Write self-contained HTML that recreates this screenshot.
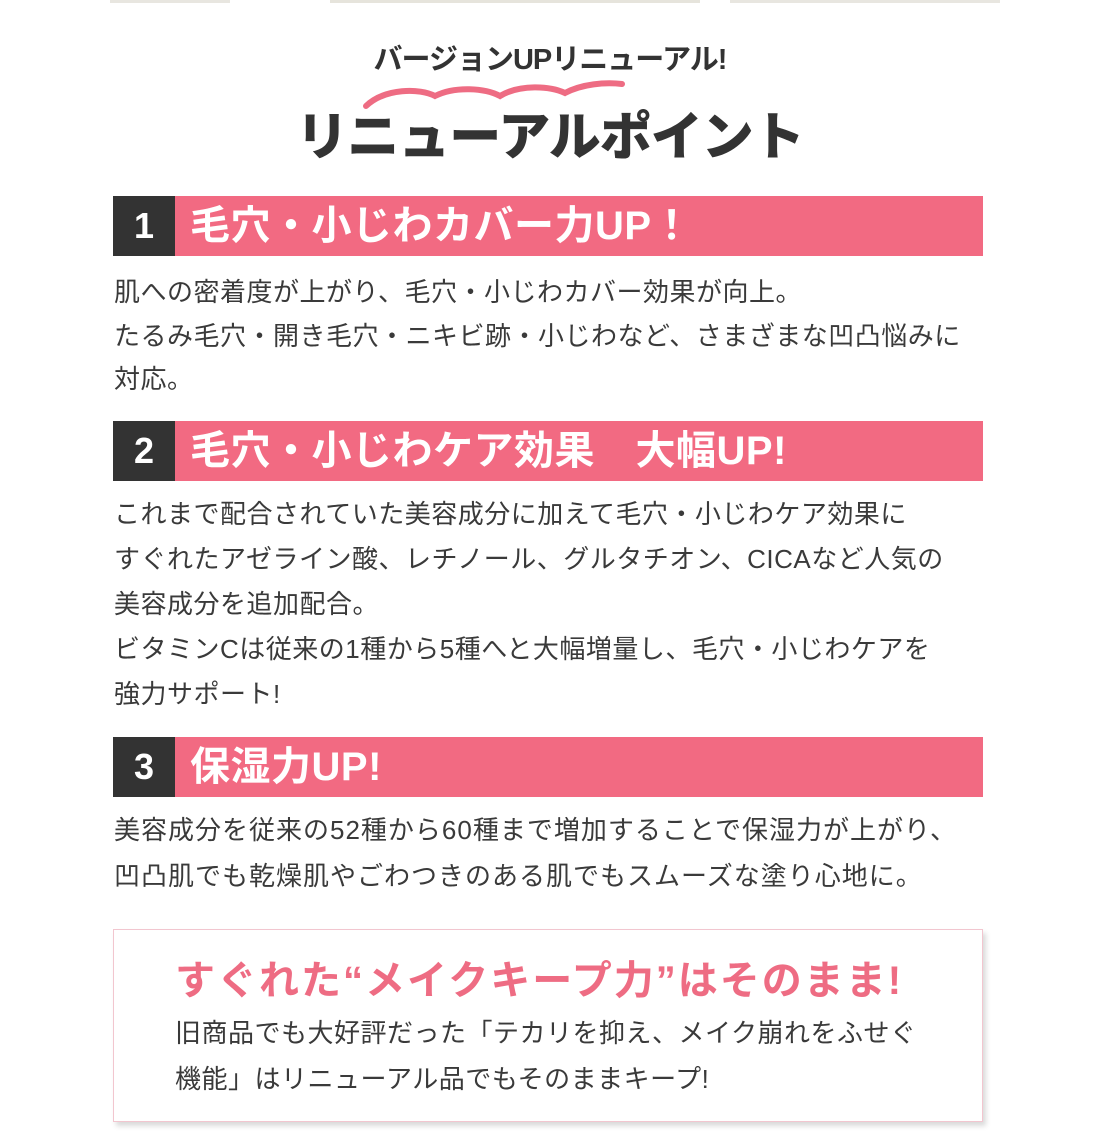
<!DOCTYPE html>
<html><head><meta charset="utf-8"><style>
*{margin:0;padding:0;box-sizing:border-box}
body{width:1100px;height:1144px;background:#fff;position:relative;overflow:hidden;font-family:"Liberation Sans","Noto Sans CJK JP",sans-serif;color:#3a3a3a}
.a{position:absolute;white-space:nowrap}
.t{font-size:26px;line-height:30px;letter-spacing:0.5px;color:#3a3a3a}
.bar{position:absolute;left:113px;width:870px;height:60px;background:#f26a82}
.num{position:absolute;left:0;top:0;width:62px;height:60px;background:#333;color:#fff;font-size:36px;font-weight:bold;text-align:center;line-height:60px}
.bt{position:absolute;left:77px;top:0;line-height:60px;color:#fff;font-size:40px;font-weight:bold;letter-spacing:0.5px;white-space:nowrap}
</style></head><body>
<div class="a" style="left:0;top:0;width:1100px;height:3px;background:linear-gradient(90deg,#fff 0,#fff 110px,#e8e6e0 110px,#e8e6e0 230px,#fff 230px,#fff 330px,#e6e4dc 330px,#e6e4dc 700px,#fff 700px,#fff 730px,#e8e6e0 730px,#e8e6e0 1000px,#fff 1000px)"></div>
<div class="a" style="left:0;width:1100px;text-align:center;top:36px;font-size:29px;font-weight:bold;color:#333;letter-spacing:-1px">バージョンUPリニューアル!</div>
<svg class="a" style="left:360px;top:76px" width="280" height="36" viewBox="0 0 280 36"><path d="M6 30 C25 12,60 12,75 20 C95 10,125 12,140 20 C160 8,190 10,205 17 C222 8,245 6,262 8" stroke="#ee6c83" stroke-width="6" fill="none" stroke-linecap="round"/></svg>
<div class="a" style="left:0;width:1100px;text-align:center;top:108px;font-size:52px;font-weight:900;color:#333;letter-spacing:-1px;line-height:60px">リニューアルポイント</div>

<div class="bar" style="top:196px"><div class="num">1</div><div class="bt">毛穴・小じわカバー力UP！</div></div>
<div class="a t" style="left:114px;top:277px">肌への密着度が上がり、毛穴・小じわカバー効果が向上。</div>
<div class="a t" style="left:114px;top:321px">たるみ毛穴・開き毛穴・ニキビ跡・小じわなど、さまざまな凹凸悩みに</div>
<div class="a t" style="left:114px;top:364px">対応。</div>

<div class="bar" style="top:421px"><div class="num">2</div><div class="bt">毛穴・小じわケア効果　大幅UP!</div></div>
<div class="a t" style="left:114px;top:499px">これまで配合されていた美容成分に加えて毛穴・小じわケア効果に</div>
<div class="a t" style="left:114px;top:544px">すぐれたアゼライン酸、レチノール、グルタチオン、CICAなど人気の</div>
<div class="a t" style="left:114px;top:589px">美容成分を追加配合。</div>
<div class="a t" style="left:114px;top:634px">ビタミンCは従来の1種から5種へと大幅増量し、毛穴・小じわケアを</div>
<div class="a t" style="left:114px;top:679px">強力サポート!</div>

<div class="bar" style="top:737px"><div class="num">3</div><div class="bt">保湿力UP!</div></div>
<div class="a t" style="left:114px;top:815px;letter-spacing:1px">美容成分を従来の52種から60種まで増加することで保湿力が上がり、</div>
<div class="a t" style="left:114px;top:861px;letter-spacing:1px">凹凸肌でも乾燥肌やごわつきのある肌でもスムーズな塗り心地に。</div>

<div class="a" style="left:113px;top:929px;width:870px;height:193px;border:1px solid #f2c6cf;background:#fff;box-shadow:3px 4px 5px rgba(0,0,0,0.15)"></div>
<div class="a" style="left:175px;top:958px;font-size:40px;line-height:46px;color:#ee6c83;font-weight:bold;letter-spacing:2px">すぐれた“メイクキープ力”はそのまま!</div>
<div class="a t" style="left:175px;top:1018px">旧商品でも大好評だった「テカリを抑え、メイク崩れをふせぐ</div>
<div class="a t" style="left:175px;top:1064px">機能」はリニューアル品でもそのままキープ!</div>
</body></html>
